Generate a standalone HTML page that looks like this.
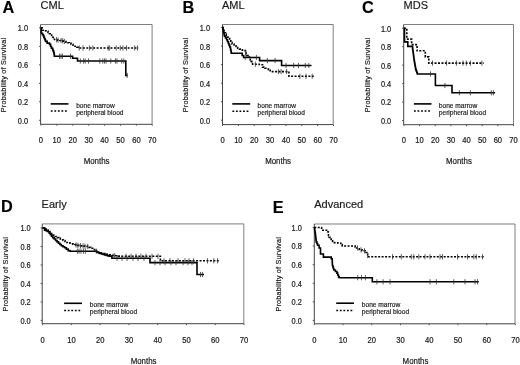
<!DOCTYPE html><html><head><meta charset="utf-8"><style>html,body{margin:0;padding:0;background:#fff;}svg{display:block;filter:blur(0.3px);}text{font-family:"Liberation Sans",sans-serif;fill:#1a1a1a;stroke:#1a1a1a;stroke-width:0.18px;}svg{-webkit-font-smoothing:antialiased;will-change:transform;}</style></head><body>
<svg width="520" height="365" viewBox="0 0 520 365">
<rect width="520" height="365" fill="#fff"/>
<text x="2.6" y="12.9" font-size="16.3" font-weight="bold" style="fill:#000">A</text>
<text x="40.6" y="8.5" font-size="11">CML</text>
<path d="M40.6 24.5H152.1V124.3" fill="none" stroke="#777" stroke-width="0.95"/>
<path d="M40.6 24.5V124.3H152.1" fill="none" stroke="#444" stroke-width="1"/>
<path d="M39 120.3H40.6" stroke="#444" stroke-width="0.9"/>
<text transform="translate(28.1 123.7) scale(1 1.12)" font-size="7.4" text-anchor="end">0.0</text>
<path d="M39 101.8H40.6" stroke="#444" stroke-width="0.9"/>
<text transform="translate(28.1 105.2) scale(1 1.12)" font-size="7.4" text-anchor="end">0.2</text>
<path d="M39 83.3H40.6" stroke="#444" stroke-width="0.9"/>
<text transform="translate(28.1 86.7) scale(1 1.12)" font-size="7.4" text-anchor="end">0.4</text>
<path d="M39 64.8H40.6" stroke="#444" stroke-width="0.9"/>
<text transform="translate(28.1 68.2) scale(1 1.12)" font-size="7.4" text-anchor="end">0.6</text>
<path d="M39 46.3H40.6" stroke="#444" stroke-width="0.9"/>
<text transform="translate(28.1 49.7) scale(1 1.12)" font-size="7.4" text-anchor="end">0.8</text>
<path d="M39 27.8H40.6" stroke="#444" stroke-width="0.9"/>
<text transform="translate(28.1 31.2) scale(1 1.12)" font-size="7.4" text-anchor="end">1.0</text>
<path d="M40.9 124.3V125.7" stroke="#444" stroke-width="0.9"/>
<text transform="translate(40.9 143.1) scale(1 1.12)" font-size="7.6" text-anchor="middle">0</text>
<path d="M56.81 124.3V125.7" stroke="#444" stroke-width="0.9"/>
<text transform="translate(56.81 143.1) scale(1 1.12)" font-size="7.6" text-anchor="middle">10</text>
<path d="M72.73 124.3V125.7" stroke="#444" stroke-width="0.9"/>
<text transform="translate(72.73 143.1) scale(1 1.12)" font-size="7.6" text-anchor="middle">20</text>
<path d="M88.64 124.3V125.7" stroke="#444" stroke-width="0.9"/>
<text transform="translate(88.64 143.1) scale(1 1.12)" font-size="7.6" text-anchor="middle">30</text>
<path d="M104.56 124.3V125.7" stroke="#444" stroke-width="0.9"/>
<text transform="translate(104.56 143.1) scale(1 1.12)" font-size="7.6" text-anchor="middle">40</text>
<path d="M120.47 124.3V125.7" stroke="#444" stroke-width="0.9"/>
<text transform="translate(120.47 143.1) scale(1 1.12)" font-size="7.6" text-anchor="middle">50</text>
<path d="M136.39 124.3V125.7" stroke="#444" stroke-width="0.9"/>
<text transform="translate(136.39 143.1) scale(1 1.12)" font-size="7.6" text-anchor="middle">60</text>
<path d="M152.3 124.3V125.7" stroke="#444" stroke-width="0.9"/>
<text transform="translate(152.3 143.1) scale(1 1.12)" font-size="7.6" text-anchor="middle">70</text>
<text transform="translate(96.6 164.4) scale(1 1.1)" font-size="7.9" text-anchor="middle">Months</text>
<text transform="translate(6.2 74.9) rotate(-90) scale(1 1.08)" font-size="7.3" letter-spacing="0.2" text-anchor="middle">Probability of Survival</text>
<path d="M50.7 103.9H68.5" stroke="#000" stroke-width="1.6"/>
<path d="M50.8 111.1H66.9" stroke="#000" stroke-width="1.5" stroke-dasharray="1.8 1.75"/>
<text x="76.2" y="107.7" font-size="6.6" style="fill:#2a2a2a">bone marrow</text>
<text x="76.2" y="114.7" font-size="6.6" style="fill:#2a2a2a">peripheral blood</text>
<path d="M40.9 27.8L41.3 27.8L41.3 29.5L41.3 33.2L42.35 33.2L42.35 34.6L43.4 34.6L43.4 36L43.95 36L43.95 37.35L44.5 37.35L44.5 38.7L45.05 38.7L45.05 40.05L45.6 40.05L45.6 41.4L47.2 41.4L47.2 43.1L49.5 43.1L49.5 44.4L50.6 44.4L50.6 46.5L51.5 46.5L51.5 48.2L52.7 48.2L52.7 50L53.25 50L53.25 51.4L53.8 51.4L53.8 52.8L54.1 52.8L54.1 54.55L54.4 54.55L54.4 56.3L72.6 56.3L72.6 58.3L77.5 58.3L77.5 61L125.8 61L125.8 75.4L127.5 75.4" fill="none" stroke="#000" stroke-width="1.6" stroke-linejoin="miter"/>
<path d="M40.9 27.8L42.3 27.8L42.3 30.2L44.5 30.2L44.5 30.8L46 30.8L46 31.05L47.5 31.05L47.5 31.3L48.05 31.3L48.05 32.55L48.6 32.55L48.6 33.8L50.2 33.8L50.2 35.1L51.6 35.1L51.6 37.3L53.2 37.3L53.2 39.2L54.5 39.2L54.5 39.45L55.8 39.45L55.8 39.7L57.7 39.7L57.7 40.1L59.6 40.1L59.6 40.5L61.2 40.5L61.2 40.83L62.8 40.83L62.8 41.17L64.4 41.17L64.4 41.5L66 41.5L66 42.13L67.6 42.13L67.6 42.77L69.2 42.77L69.2 43.4L71.1 43.4L71.1 44.35L73 44.35L73 45.3L74.9 45.3L74.9 46.3L76.8 46.3L76.8 47.3L78.5 47.3L78.5 48L138.2 48" fill="none" stroke="#000" stroke-width="1.6" stroke-dasharray="2 1.45"/>
<path d="M59.5 53.7V58.9M61 53.7V58.9M62.5 53.7V58.9M70.5 53.7V58.9M80.3 58.4V63.6M83.6 58.4V63.6M85.2 58.4V63.6M88.5 58.4V63.6M99.8 58.4V63.6M102.8 58.4V63.6M104.5 58.4V63.6M106 58.4V63.6M110.8 58.4V63.6M115.5 58.4V63.6M117 58.4V63.6M121.7 58.4V63.6M123.8 58.4V63.6M127.2 72.8V78M56.5 37.1V42.3M58 37.5V42.7M61.1 37.9V43.1M62.7 38.23V43.43M64.4 38.9V44.1M79.2 45.4V50.6M83 45.4V50.6M89.6 45.4V50.6M92.9 45.4V50.6M108.2 45.4V50.6M109.4 45.4V50.6M116.2 45.4V50.6M120.3 45.4V50.6M123 45.4V50.6M126.5 45.4V50.6M134.7 45.4V50.6M137.5 45.4V50.6" stroke="#333" stroke-width="0.8"/>
<text x="182.6" y="12.8" font-size="16.3" font-weight="bold" style="fill:#000">B</text>
<text x="222" y="8.5" font-size="11">AML</text>
<path d="M222.5 24.5H333.2V124.6" fill="none" stroke="#777" stroke-width="0.95"/>
<path d="M222.5 24.5V124.6H333.2" fill="none" stroke="#444" stroke-width="1"/>
<path d="M220.9 120.2H222.5" stroke="#444" stroke-width="0.9"/>
<text transform="translate(210 123.6) scale(1 1.12)" font-size="7.4" text-anchor="end">0.0</text>
<path d="M220.9 101.68H222.5" stroke="#444" stroke-width="0.9"/>
<text transform="translate(210 105.08) scale(1 1.12)" font-size="7.4" text-anchor="end">0.2</text>
<path d="M220.9 83.16H222.5" stroke="#444" stroke-width="0.9"/>
<text transform="translate(210 86.56) scale(1 1.12)" font-size="7.4" text-anchor="end">0.4</text>
<path d="M220.9 64.64H222.5" stroke="#444" stroke-width="0.9"/>
<text transform="translate(210 68.04) scale(1 1.12)" font-size="7.4" text-anchor="end">0.6</text>
<path d="M220.9 46.12H222.5" stroke="#444" stroke-width="0.9"/>
<text transform="translate(210 49.52) scale(1 1.12)" font-size="7.4" text-anchor="end">0.8</text>
<path d="M220.9 27.6H222.5" stroke="#444" stroke-width="0.9"/>
<text transform="translate(210 31) scale(1 1.12)" font-size="7.4" text-anchor="end">1.0</text>
<path d="M222.5 124.6V126" stroke="#444" stroke-width="0.9"/>
<text transform="translate(222.5 143.1) scale(1 1.12)" font-size="7.6" text-anchor="middle">0</text>
<path d="M238.36 124.6V126" stroke="#444" stroke-width="0.9"/>
<text transform="translate(238.36 143.1) scale(1 1.12)" font-size="7.6" text-anchor="middle">10</text>
<path d="M254.21 124.6V126" stroke="#444" stroke-width="0.9"/>
<text transform="translate(254.21 143.1) scale(1 1.12)" font-size="7.6" text-anchor="middle">20</text>
<path d="M270.07 124.6V126" stroke="#444" stroke-width="0.9"/>
<text transform="translate(270.07 143.1) scale(1 1.12)" font-size="7.6" text-anchor="middle">30</text>
<path d="M285.93 124.6V126" stroke="#444" stroke-width="0.9"/>
<text transform="translate(285.93 143.1) scale(1 1.12)" font-size="7.6" text-anchor="middle">40</text>
<path d="M301.79 124.6V126" stroke="#444" stroke-width="0.9"/>
<text transform="translate(301.79 143.1) scale(1 1.12)" font-size="7.6" text-anchor="middle">50</text>
<path d="M317.64 124.6V126" stroke="#444" stroke-width="0.9"/>
<text transform="translate(317.64 143.1) scale(1 1.12)" font-size="7.6" text-anchor="middle">60</text>
<path d="M333.5 124.6V126" stroke="#444" stroke-width="0.9"/>
<text transform="translate(333.5 143.1) scale(1 1.12)" font-size="7.6" text-anchor="middle">70</text>
<text transform="translate(278.1 164.4) scale(1 1.1)" font-size="7.9" text-anchor="middle">Months</text>
<text transform="translate(188.2 74.9) rotate(-90) scale(1 1.08)" font-size="7.3" letter-spacing="0.2" text-anchor="middle">Probability of Survival</text>
<path d="M232.3 103.9H250.2" stroke="#000" stroke-width="1.6"/>
<path d="M232.4 111.2H248.5" stroke="#000" stroke-width="1.5" stroke-dasharray="1.8 1.75"/>
<text x="257.6" y="107.7" font-size="6.6" style="fill:#2a2a2a">bone marrow</text>
<text x="257.6" y="114.8" font-size="6.6" style="fill:#2a2a2a">peripheral blood</text>
<path d="M222.5 27.6L222.88 27.6L222.88 29.3L223.26 29.3L223.26 31L223.64 31L223.64 32.7L224.02 32.7L224.02 34.4L224.4 34.4L224.4 36.1L225.5 36.1L225.5 37.95L226.6 37.95L226.6 39.8L227.5 39.8L227.5 41.65L228.4 41.65L228.4 43.5L229.07 43.5L229.07 45.17L229.73 45.17L229.73 46.83L230.4 46.83L230.4 48.5L230.7 48.5L230.7 50.07L231 50.07L231 51.63L231.3 51.63L231.3 53.2L240.9 53.2L242.2 53.2L242.2 55.5L243.6 55.5L243.6 57.5L259.6 57.5L259.6 60.6L281.6 60.6L281.6 65.5L311.5 65.5" fill="none" stroke="#000" stroke-width="1.6" stroke-linejoin="miter"/>
<path d="M222.5 27.6L223.25 27.6L223.25 29.3L224 29.3L224 31L224.75 31L224.75 32.7L225.5 32.7L225.5 34.4L226.33 34.4L226.33 35.77L227.17 35.77L227.17 37.13L228 37.13L228 38.5L229.6 38.5L229.6 40.8L230.8 40.8L230.8 42.4L232 42.4L232 44L234 44L234 45.75L236 45.75L236 47.5L237.7 47.5L237.7 48.3L239.4 48.3L239.4 49.1L241.1 49.1L241.1 49.9L242.3 49.9L242.3 50.25L243.5 50.25L243.5 50.6L245.3 50.6L245.3 52.3L246.1 52.3L246.1 53.95L246.9 53.95L246.9 55.6L248.2 55.6L248.2 57.05L249.5 57.05L249.5 58.5L250.25 58.5L250.25 59.95L251 59.95L251 61.4L251.8 61.4L251.8 62.8L252.6 62.8L252.6 64.2L257.6 64.2L259.25 64.2L259.25 64.45L260.9 64.45L260.9 64.7L262.5 64.7L262.5 67.1L263.75 67.1L263.75 67.7L265 67.7L265 68.3L266.75 68.3L266.75 68.95L268.5 68.95L268.5 69.6L270.2 69.6L270.2 71.6L288.9 71.6L288.9 76.3L314.2 76.3" fill="none" stroke="#000" stroke-width="1.6" stroke-dasharray="2 1.45"/>
<path d="M245.2 54.9V60.1M256.4 54.9V60.1M267.4 58V63.2M275.1 58V63.2M286 62.9V68.1M293.7 62.9V68.1M298.5 62.9V68.1M305.3 62.9V68.1M308.8 62.9V68.1M245.8 49.7V54.9M255.4 61.6V66.8M278.4 69V74.2M281.1 69V74.2M286.6 69V74.2M299.9 73.7V78.9M306 73.7V78.9M312.2 73.7V78.9" stroke="#333" stroke-width="0.8"/>
<text x="362" y="12.8" font-size="16.3" font-weight="bold" style="fill:#000">C</text>
<text x="403.6" y="8.5" font-size="11">MDS</text>
<path d="M403.7 24.5H513.5V124.7" fill="none" stroke="#777" stroke-width="0.95"/>
<path d="M403.7 24.5V124.7H513.5" fill="none" stroke="#444" stroke-width="1"/>
<path d="M402.1 120.5H403.7" stroke="#444" stroke-width="0.9"/>
<text transform="translate(391.2 123.9) scale(1 1.12)" font-size="7.4" text-anchor="end">0.0</text>
<path d="M402.1 102.04H403.7" stroke="#444" stroke-width="0.9"/>
<text transform="translate(391.2 105.44) scale(1 1.12)" font-size="7.4" text-anchor="end">0.2</text>
<path d="M402.1 83.58H403.7" stroke="#444" stroke-width="0.9"/>
<text transform="translate(391.2 86.98) scale(1 1.12)" font-size="7.4" text-anchor="end">0.4</text>
<path d="M402.1 65.12H403.7" stroke="#444" stroke-width="0.9"/>
<text transform="translate(391.2 68.52) scale(1 1.12)" font-size="7.4" text-anchor="end">0.6</text>
<path d="M402.1 46.66H403.7" stroke="#444" stroke-width="0.9"/>
<text transform="translate(391.2 50.06) scale(1 1.12)" font-size="7.4" text-anchor="end">0.8</text>
<path d="M402.1 28.2H403.7" stroke="#444" stroke-width="0.9"/>
<text transform="translate(391.2 31.6) scale(1 1.12)" font-size="7.4" text-anchor="end">1.0</text>
<path d="M403.9 124.7V126.1" stroke="#444" stroke-width="0.9"/>
<text transform="translate(403.9 143.1) scale(1 1.12)" font-size="7.6" text-anchor="middle">0</text>
<path d="M419.56 124.7V126.1" stroke="#444" stroke-width="0.9"/>
<text transform="translate(419.56 143.1) scale(1 1.12)" font-size="7.6" text-anchor="middle">10</text>
<path d="M435.21 124.7V126.1" stroke="#444" stroke-width="0.9"/>
<text transform="translate(435.21 143.1) scale(1 1.12)" font-size="7.6" text-anchor="middle">20</text>
<path d="M450.87 124.7V126.1" stroke="#444" stroke-width="0.9"/>
<text transform="translate(450.87 143.1) scale(1 1.12)" font-size="7.6" text-anchor="middle">30</text>
<path d="M466.53 124.7V126.1" stroke="#444" stroke-width="0.9"/>
<text transform="translate(466.53 143.1) scale(1 1.12)" font-size="7.6" text-anchor="middle">40</text>
<path d="M482.19 124.7V126.1" stroke="#444" stroke-width="0.9"/>
<text transform="translate(482.19 143.1) scale(1 1.12)" font-size="7.6" text-anchor="middle">50</text>
<path d="M497.84 124.7V126.1" stroke="#444" stroke-width="0.9"/>
<text transform="translate(497.84 143.1) scale(1 1.12)" font-size="7.6" text-anchor="middle">60</text>
<path d="M513.5 124.7V126.1" stroke="#444" stroke-width="0.9"/>
<text transform="translate(513.5 143.1) scale(1 1.12)" font-size="7.6" text-anchor="middle">70</text>
<text transform="translate(458.9 164.4) scale(1 1.1)" font-size="7.9" text-anchor="middle">Months</text>
<text transform="translate(369.8 74.9) rotate(-90) scale(1 1.08)" font-size="7.3" letter-spacing="0.2" text-anchor="middle">Probability of Survival</text>
<path d="M413.9 103.9H431.5" stroke="#000" stroke-width="1.6"/>
<path d="M414 111.1H430.1" stroke="#000" stroke-width="1.5" stroke-dasharray="1.8 1.75"/>
<text x="438.8" y="107.7" font-size="6.6" style="fill:#2a2a2a">bone marrow</text>
<text x="438.8" y="114.7" font-size="6.6" style="fill:#2a2a2a">peripheral blood</text>
<path d="M403.9 28.2L404.5 28.2L404.5 41.9L407.8 41.9L407.8 46.4L412.3 46.4L412.51 46.4L412.51 48.06L412.73 48.06L412.73 49.73L412.94 49.73L412.94 51.39L413.15 51.39L413.15 53.05L413.36 53.05L413.36 54.71L413.57 54.71L413.57 56.38L413.79 56.38L413.79 58.04L414 58.04L414 59.7L414.28 59.7L414.28 61.35L414.57 61.35L414.57 63L414.85 63L414.85 64.65L415.13 64.65L415.13 66.3L415.42 66.3L415.42 67.95L415.7 67.95L415.7 69.6L416.23 69.6L416.23 71.07L416.77 71.07L416.77 72.53L417.3 72.53L417.3 74L435.4 74L435.4 85.5L452 85.5L452 92.8L495.1 92.8" fill="none" stroke="#000" stroke-width="1.6" stroke-linejoin="miter"/>
<path d="M403.9 28.2L406.8 28.2L406.8 39.1L411.6 39.1L411.6 44.6L417.1 44.6L417.1 50.8L425.3 50.8L425.3 56.9L428.8 56.9L428.8 63.1L483.6 63.1" fill="none" stroke="#000" stroke-width="1.6" stroke-dasharray="2 1.45"/>
<path d="M430.5 71.4V76.6M444.9 82.9V88.1M459.4 90.2V95.4M470.4 90.2V95.4M491.3 90.2V95.4M493.4 90.2V95.4M432.5 60.5V65.7M446.6 60.5V65.7M456.4 60.5V65.7M463 60.5V65.7M466.3 60.5V65.7M470.4 60.5V65.7M481.9 60.5V65.7" stroke="#333" stroke-width="0.8"/>
<text x="1" y="212.4" font-size="16.3" font-weight="bold" style="fill:#000">D</text>
<text x="41.6" y="208.4" font-size="11">Early</text>
<path d="M42.2 223.9H243.8V323.7" fill="none" stroke="#777" stroke-width="0.95"/>
<path d="M42.2 223.9V323.7H243.8" fill="none" stroke="#444" stroke-width="1"/>
<path d="M40.6 320.4H42.2" stroke="#444" stroke-width="0.9"/>
<text transform="translate(30.7 323.8) scale(1 1.12)" font-size="7.4" text-anchor="end">0.0</text>
<path d="M40.6 301.92H42.2" stroke="#444" stroke-width="0.9"/>
<text transform="translate(30.7 305.32) scale(1 1.12)" font-size="7.4" text-anchor="end">0.2</text>
<path d="M40.6 283.44H42.2" stroke="#444" stroke-width="0.9"/>
<text transform="translate(30.7 286.84) scale(1 1.12)" font-size="7.4" text-anchor="end">0.4</text>
<path d="M40.6 264.96H42.2" stroke="#444" stroke-width="0.9"/>
<text transform="translate(30.7 268.36) scale(1 1.12)" font-size="7.4" text-anchor="end">0.6</text>
<path d="M40.6 246.48H42.2" stroke="#444" stroke-width="0.9"/>
<text transform="translate(30.7 249.88) scale(1 1.12)" font-size="7.4" text-anchor="end">0.8</text>
<path d="M40.6 228H42.2" stroke="#444" stroke-width="0.9"/>
<text transform="translate(30.7 231.4) scale(1 1.12)" font-size="7.4" text-anchor="end">1.0</text>
<path d="M42.6 323.7V325.1" stroke="#444" stroke-width="0.9"/>
<text transform="translate(42.6 342.6) scale(1 1.12)" font-size="7.6" text-anchor="middle">0</text>
<path d="M71.37 323.7V325.1" stroke="#444" stroke-width="0.9"/>
<text transform="translate(71.37 342.6) scale(1 1.12)" font-size="7.6" text-anchor="middle">10</text>
<path d="M100.14 323.7V325.1" stroke="#444" stroke-width="0.9"/>
<text transform="translate(100.14 342.6) scale(1 1.12)" font-size="7.6" text-anchor="middle">20</text>
<path d="M128.91 323.7V325.1" stroke="#444" stroke-width="0.9"/>
<text transform="translate(128.91 342.6) scale(1 1.12)" font-size="7.6" text-anchor="middle">30</text>
<path d="M157.69 323.7V325.1" stroke="#444" stroke-width="0.9"/>
<text transform="translate(157.69 342.6) scale(1 1.12)" font-size="7.6" text-anchor="middle">40</text>
<path d="M186.46 323.7V325.1" stroke="#444" stroke-width="0.9"/>
<text transform="translate(186.46 342.6) scale(1 1.12)" font-size="7.6" text-anchor="middle">50</text>
<path d="M215.23 323.7V325.1" stroke="#444" stroke-width="0.9"/>
<text transform="translate(215.23 342.6) scale(1 1.12)" font-size="7.6" text-anchor="middle">60</text>
<path d="M244 323.7V325.1" stroke="#444" stroke-width="0.9"/>
<text transform="translate(244 342.6) scale(1 1.12)" font-size="7.6" text-anchor="middle">70</text>
<text transform="translate(143.6 363.6) scale(1 1.1)" font-size="7.9" text-anchor="middle">Months</text>
<text transform="translate(7.9 274.3) rotate(-90) scale(1 1.08)" font-size="7.3" letter-spacing="0.2" text-anchor="middle">Probability of Survival</text>
<path d="M64.1 303.3H82" stroke="#000" stroke-width="1.6"/>
<path d="M64.2 310.6H80.3" stroke="#000" stroke-width="1.5" stroke-dasharray="1.8 1.75"/>
<text x="89.8" y="307.1" font-size="6.6" style="fill:#2a2a2a">bone marrow</text>
<text x="89.8" y="314.2" font-size="6.6" style="fill:#2a2a2a">peripheral blood</text>
<path d="M42.6 228L44.6 228L44.6 230.1L46.35 230.1L46.35 230.95L48.1 230.95L48.1 231.8L49.25 231.8L49.25 233.25L50.4 233.25L50.4 234.7L51.55 234.7L51.55 236.15L52.7 236.15L52.7 237.6L54.15 237.6L54.15 239.05L55.6 239.05L55.6 240.5L57.05 240.5L57.05 241.9L58.5 241.9L58.5 243.3L59.9 243.3L59.9 244.5L61.3 244.5L61.3 245.7L62.95 245.7L62.95 246.7L64.6 246.7L64.6 247.7L66.35 247.7L66.35 249.15L68.1 249.15L68.1 250.6L70 250.6L70 251.2L94.6 251.2L96.9 251.2L96.9 252.3L98.43 252.3L98.43 252.87L99.97 252.87L99.97 253.43L101.5 253.43L101.5 254L103.12 254L103.12 254.46L104.74 254.46L104.74 254.92L106.36 254.92L106.36 255.38L107.98 255.38L107.98 255.84L109.6 255.84L109.6 256.3L111.9 256.3L111.9 258.3L150 258.3L150 262.6L197 262.6L197 274.5L204 274.5" fill="none" stroke="#000" stroke-width="1.6" stroke-linejoin="miter"/>
<path d="M42.6 228L44.43 228L44.43 229.07L46.27 229.07L46.27 230.13L48.1 230.13L48.1 231.2L49.9 231.2L49.9 232.57L51.7 232.57L51.7 233.93L53.5 233.93L53.5 235.3L55.4 235.3L55.4 236.45L57.3 236.45L57.3 237.6L58.75 237.6L58.75 238.32L60.2 238.32L60.2 239.05L61.65 239.05L61.65 239.78L63.1 239.78L63.1 240.5L65 240.5L65 241.5L66.9 241.5L66.9 242.5L68.43 242.5L68.43 242.9L69.97 242.9L69.97 243.3L71.5 243.3L71.5 243.7L72.95 243.7L72.95 244.12L74.4 244.12L74.4 244.55L75.85 244.55L75.85 244.97L77.3 244.97L77.3 245.4L78.79 245.4L78.79 245.56L80.27 245.56L80.27 245.71L81.76 245.71L81.76 245.87L83.24 245.87L83.24 246.03L84.73 246.03L84.73 246.19L86.21 246.19L86.21 246.34L87.7 246.34L87.7 246.5L89.15 246.5L89.15 247.4L90.6 247.4L90.6 248.3L92.6 248.3L92.6 249.45L94.6 249.45L94.6 250.6L96.35 250.6L96.35 251.45L98.1 251.45L98.1 252.3L99.82 252.3L99.82 252.73L101.55 252.73L101.55 253.15L103.28 253.15L103.28 253.57L105 253.57L105 254L106.72 254L106.72 254.35L108.45 254.35L108.45 254.7L110.18 254.7L110.18 255.05L111.9 255.05L111.9 255.4L113.52 255.4L113.52 255.58L115.14 255.58L115.14 255.76L116.76 255.76L116.76 255.94L118.38 255.94L118.38 256.12L120 256.12L120 256.3L160.4 256.3L160.4 260.8L220 260.8" fill="none" stroke="#000" stroke-width="1.6" stroke-dasharray="2 1.45"/>
<path d="M77.3 248.6V253.8M79 248.6V253.8M81 248.6V253.8M83.5 248.6V253.8M85.4 248.6V253.8M96.3 248.6V253.8M117 255.7V260.9M122 255.7V260.9M127 255.7V260.9M133 255.7V260.9M138 255.7V260.9M144 255.7V260.9M155 260V265.2M160 260V265.2M165 260V265.2M171 260V265.2M176 260V265.2M183 260V265.2M188 260V265.2M192 260V265.2M200.5 271.9V277.1M202.5 271.9V277.1M76 242.38V247.57M78 242.8V248M80.5 243.11V248.31M83 243.27V248.47M85 243.59V248.79M87.7 243.9V249.1M114.2 252.98V258.18M126 253.7V258.9M131 253.7V258.9M136 253.7V258.9M141 253.7V258.9M146 253.7V258.9M152 253.7V258.9M158 253.7V258.9M164 258.2V263.4M170 258.2V263.4M178 258.2V263.4M185 258.2V263.4M189 258.2V263.4M193.6 258.2V263.4M207.5 258.2V263.4M213.8 258.2V263.4M217.6 258.2V263.4" stroke="#333" stroke-width="0.8"/>
<text x="272.8" y="213.2" font-size="16.3" font-weight="bold" style="fill:#000">E</text>
<text x="314.2" y="208.4" font-size="11">Advanced</text>
<path d="M314.3 224H515V323.8" fill="none" stroke="#777" stroke-width="0.95"/>
<path d="M314.3 224V323.8H515" fill="none" stroke="#444" stroke-width="1"/>
<path d="M312.7 320.4H314.3" stroke="#444" stroke-width="0.9"/>
<text transform="translate(301.8 323.8) scale(1 1.12)" font-size="7.4" text-anchor="end">0.0</text>
<path d="M312.7 301.82H314.3" stroke="#444" stroke-width="0.9"/>
<text transform="translate(301.8 305.22) scale(1 1.12)" font-size="7.4" text-anchor="end">0.2</text>
<path d="M312.7 283.24H314.3" stroke="#444" stroke-width="0.9"/>
<text transform="translate(301.8 286.64) scale(1 1.12)" font-size="7.4" text-anchor="end">0.4</text>
<path d="M312.7 264.66H314.3" stroke="#444" stroke-width="0.9"/>
<text transform="translate(301.8 268.06) scale(1 1.12)" font-size="7.4" text-anchor="end">0.6</text>
<path d="M312.7 246.08H314.3" stroke="#444" stroke-width="0.9"/>
<text transform="translate(301.8 249.48) scale(1 1.12)" font-size="7.4" text-anchor="end">0.8</text>
<path d="M312.7 227.5H314.3" stroke="#444" stroke-width="0.9"/>
<text transform="translate(301.8 230.9) scale(1 1.12)" font-size="7.4" text-anchor="end">1.0</text>
<path d="M314.3 323.8V325.2" stroke="#444" stroke-width="0.9"/>
<text transform="translate(314.3 342.6) scale(1 1.12)" font-size="7.6" text-anchor="middle">0</text>
<path d="M343.03 323.8V325.2" stroke="#444" stroke-width="0.9"/>
<text transform="translate(343.03 342.6) scale(1 1.12)" font-size="7.6" text-anchor="middle">10</text>
<path d="M371.76 323.8V325.2" stroke="#444" stroke-width="0.9"/>
<text transform="translate(371.76 342.6) scale(1 1.12)" font-size="7.6" text-anchor="middle">20</text>
<path d="M400.49 323.8V325.2" stroke="#444" stroke-width="0.9"/>
<text transform="translate(400.49 342.6) scale(1 1.12)" font-size="7.6" text-anchor="middle">30</text>
<path d="M429.21 323.8V325.2" stroke="#444" stroke-width="0.9"/>
<text transform="translate(429.21 342.6) scale(1 1.12)" font-size="7.6" text-anchor="middle">40</text>
<path d="M457.94 323.8V325.2" stroke="#444" stroke-width="0.9"/>
<text transform="translate(457.94 342.6) scale(1 1.12)" font-size="7.6" text-anchor="middle">50</text>
<path d="M486.67 323.8V325.2" stroke="#444" stroke-width="0.9"/>
<text transform="translate(486.67 342.6) scale(1 1.12)" font-size="7.6" text-anchor="middle">60</text>
<path d="M515.4 323.8V325.2" stroke="#444" stroke-width="0.9"/>
<text transform="translate(515.4 342.6) scale(1 1.12)" font-size="7.6" text-anchor="middle">70</text>
<text transform="translate(415.5 363.6) scale(1 1.1)" font-size="7.9" text-anchor="middle">Months</text>
<text transform="translate(281 274.3) rotate(-90) scale(1 1.08)" font-size="7.3" letter-spacing="0.2" text-anchor="middle">Probability of Survival</text>
<path d="M336.2 303.2H354" stroke="#000" stroke-width="1.6"/>
<path d="M336.3 310.4H352.4" stroke="#000" stroke-width="1.5" stroke-dasharray="1.8 1.75"/>
<text x="361.8" y="307" font-size="6.6" style="fill:#2a2a2a">bone marrow</text>
<text x="361.8" y="314" font-size="6.6" style="fill:#2a2a2a">peripheral blood</text>
<path d="M314.3 227.5L314.54 227.5L314.54 229.14L314.78 229.14L314.78 230.78L315.02 230.78L315.02 232.42L315.26 232.42L315.26 234.06L315.5 234.06L315.5 235.7L315.68 235.7L315.68 237.25L315.85 237.25L315.85 238.8L316.02 238.8L316.02 240.35L316.2 240.35L316.2 241.9L316.9 241.9L316.9 243.55L317.6 243.55L317.6 245.2L319.1 245.2L319.1 246.5L319.1 248L320.5 248L320.5 254L323.4 254L323.4 257.1L330.3 257.1L331.2 257.1L331.2 258.7L332.2 258.7L332.2 260.6L332.27 260.6L332.27 262.23L332.33 262.23L332.33 263.87L332.4 263.87L332.4 265.5L332.87 265.5L332.87 267L333.33 267L333.33 268.5L333.8 268.5L333.8 270L335.4 270L335.4 271.5L336.9 271.5L336.9 273.1L337.7 273.1L337.7 275L338.5 275L338.5 276.9L339.2 276.9L339.2 277.7L372.3 277.7L372.3 281.8L478.8 281.8" fill="none" stroke="#000" stroke-width="1.6" stroke-linejoin="miter"/>
<path d="M314.3 227.5L321.6 227.5L321.6 230.2L327.8 230.2L328.03 230.2L328.03 232.03L328.27 232.03L328.27 233.87L328.5 233.87L328.5 235.7L329.2 235.7L329.2 237.4L329.9 237.4L329.9 239.1L331.25 239.1L331.25 240.8L332.6 240.8L332.6 242.5L334.33 242.5L334.33 242.68L336.05 242.68L336.05 242.85L337.77 242.85L337.77 243.02L339.5 243.02L339.5 243.2L340.85 243.2L340.85 244.6L342.2 244.6L342.2 246L353.8 246L355.2 246L355.2 247L356.6 247L356.6 248L357.95 248L357.95 248.7L359.3 248.7L359.3 249.4L360.67 249.4L360.67 249.87L362.03 249.87L362.03 250.33L363.4 250.33L363.4 250.8L365.1 250.8L365.1 252.5L366.8 252.5L366.8 254.2L367.65 254.2L367.65 255.5L368.5 255.5L368.5 256.8L483.8 256.8" fill="none" stroke="#000" stroke-width="1.6" stroke-dasharray="2 1.45"/>
<path d="M357.7 275.1V280.3M361.5 275.1V280.3M365.4 275.1V280.3M376.9 279.2V284.4M383.1 279.2V284.4M390 279.2V284.4M430 279.2V284.4M436.3 279.2V284.4M453.8 279.2V284.4M465 279.2V284.4M475 279.2V284.4M477.5 279.2V284.4M357.5 245.4V250.6M361 247.27V252.47M364.5 248.2V253.4M367.7 252.9V258.1M392.5 254.2V259.4M401.3 254.2V259.4M411.3 254.2V259.4M413.8 254.2V259.4M418.8 254.2V259.4M425 254.2V259.4M430 254.2V259.4M440 254.2V259.4M442.5 254.2V259.4M457.5 254.2V259.4M467.5 254.2V259.4M473.8 254.2V259.4M476.3 254.2V259.4M482.5 254.2V259.4" stroke="#333" stroke-width="0.8"/>
</svg></body></html>
